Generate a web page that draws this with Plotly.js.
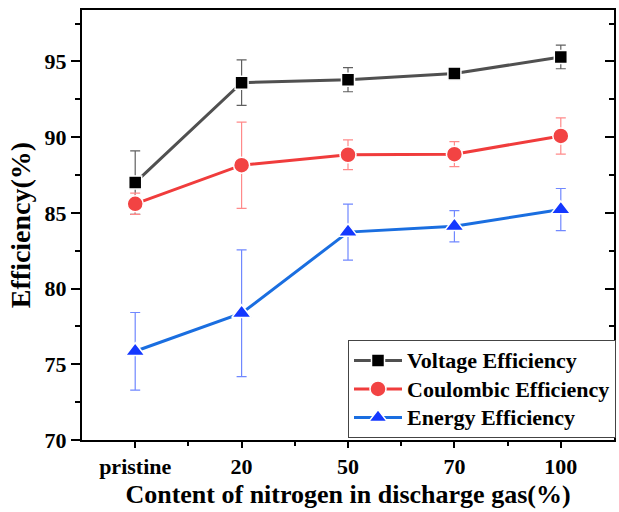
<!DOCTYPE html>
<html>
<head>
<meta charset="utf-8">
<script src="https://cdn.plot.ly/plotly-3.0.1.min.js"></script>
<style>html,body{margin:0;padding:0;background:#fff;}#chart{width:619px;height:512px;}</style>
</head>
<body>
<div id="chart"></div>
<script>
var categories = ["pristine", "20", "50", "70", "100"];
var seriesNames = ["Voltage Efficiency", "Coulombic Efficiency", "Energy Efficiency"];
var voltage = [87.0, 93.6, 93.8, 94.2, 95.3];
var voltageErr = [2.1, 1.5, 0.8, 0.3, 0.78];
var coulombic = [85.6, 88.15, 88.84, 88.88, 90.08];
var coulombicErr = [0.7, 2.85, 0.98, 0.83, 1.2];
var energy = [75.86, 78.37, 83.73, 84.12, 85.22];
var energyErr = [2.56, 4.19, 1.85, 1.03, 1.39];

var xs = categories.map(function(c, i){ return i; });
var font = "Liberation Serif, Times New Roman, serif";

function tr(name, y, err, lineColor, markerColor, errColor, symbol, size) {
  return {
    x: xs, y: y, name: '<span style="font-size:22px">' + name + '</span>', type: 'scatter', mode: 'lines+markers',
    line: {color: lineColor, width: 3},
    marker: {symbol: symbol, size: size, color: markerColor, line: {color: '#ffffff', width: 1.5}},
    error_y: {type: 'data', array: err, visible: true, color: errColor, thickness: 1.2, width: 5}
  };
}

var data = [
  tr(seriesNames[0], voltage, voltageErr, '#505050', '#000000', '#606060', 'square', 13),
  tr(seriesNames[1], coulombic, coulombicErr, '#f03c3c', '#f24343', '#ff8a8a', 'circle', 16),
  tr(seriesNames[2], energy, energyErr, '#1a6ee0', '#1438ff', '#7088ff', 'triangle-up', 17)
];

var layout = {
  width: 619, height: 512,
  margin: {l: 82, r: 3, t: 10, b: 72},
  paper_bgcolor: '#ffffff', plot_bgcolor: '#ffffff',
  showlegend: true,
  font: {family: font, color: '#000000'},
  xaxis: {
    range: [-0.5, 4.5], tickmode: 'array', tickvals: xs, ticktext: categories,
    showline: true, linecolor: '#000000', linewidth: 2, mirror: true,
    ticks: 'outside', ticklen: 6, tickwidth: 2, tickcolor: '#000000',
    minor: {tickmode: 'array', tickvals: [0.5, 1.5, 2.5, 3.5], ticks: 'outside', ticklen: 4, tickwidth: 2, tickcolor: '#000000'},
    showgrid: false, zeroline: false,
    tickfont: {family: font, size: 22, color: '#000000', weight: 'bold'},
    title: {text: '<b>Content of nitrogen in discharge gas(%)</b>', font: {family: font, size: 26, color: '#000000'}, standoff: 6}
  },
  yaxis: {
    range: [70, 98.4], tickmode: 'linear', tick0: 70, dtick: 5,
    showline: true, linecolor: '#000000', linewidth: 2,
    ticks: 'outside', ticklen: 9, tickwidth: 2, tickcolor: '#000000',
    minor: {dtick: 2.5, ticks: 'outside', ticklen: 5, tickwidth: 2, tickcolor: '#000000'},
    showgrid: false, zeroline: false,
    tickfont: {family: font, size: 22, color: '#000000', weight: 'bold'},
    title: {text: '<b>Efficiency(%)</b>', font: {family: font, size: 28, color: '#000000'}, standoff: 6}
  },
  yaxis2: {
    overlaying: 'y', side: 'right', range: [70, 98.4], tickmode: 'linear', tick0: 70, dtick: 5,
    showline: true, linecolor: '#000000', linewidth: 2,
    ticks: 'inside', ticklen: 9, tickwidth: 2, tickcolor: '#000000',
    minor: {dtick: 2.5, ticks: 'inside', ticklen: 5, tickwidth: 2, tickcolor: '#000000'},
    showticklabels: false, showgrid: false, zeroline: false
  },
  legend: {
    x: 0.5, y: 0.232, xanchor: 'left', yanchor: 'top',
    bgcolor: '#ffffff', bordercolor: '#444444', borderwidth: 1,
    font: {family: font, size: 19.6, color: '#000000', weight: 'bold'},
    itemwidth: 48, tracegroupgap: 0
  }
};

// dummy trace to activate yaxis2
data.push({x: [0], y: [70], yaxis: 'y2', type: 'scatter', mode: 'markers', marker: {opacity: 0}, showlegend: false, hoverinfo: 'skip'});

Plotly.newPlot('chart', data, layout, {displayModeBar: false, staticPlot: true});
</script>
</body>
</html>
